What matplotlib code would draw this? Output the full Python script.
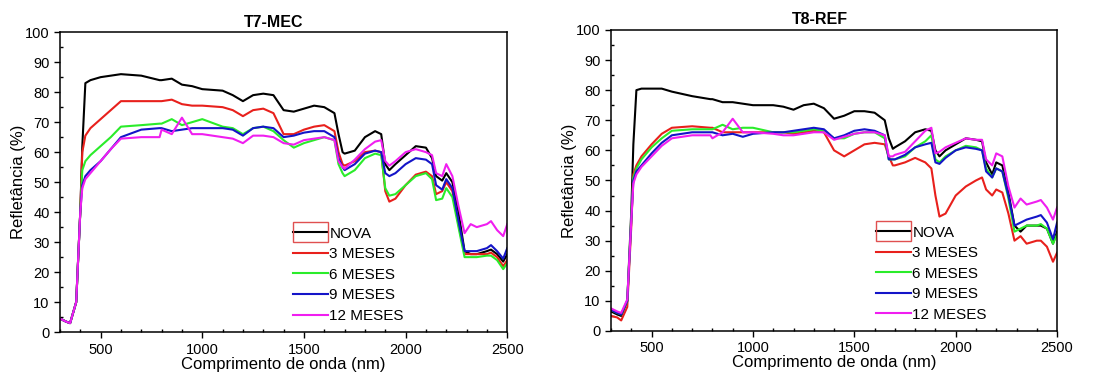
import numpy as np
import matplotlib
matplotlib.use("Agg")
import matplotlib.pyplot as plt
from matplotlib.patches import Rectangle
from matplotlib.ticker import MultipleLocator

plt.rcParams['font.family'] = ['Liberation Sans', 'DejaVu Sans']

# wavelength grid (nm), shared by every series
wl = [300, 330, 350, 380, 400, 410, 425, 450, 500, 550, 600, 700, 790, 800, 850, 900,
      950, 1000, 1100, 1150, 1200, 1250, 1300, 1350, 1400, 1450, 1500, 1550, 1600, 1650,
      1670, 1690, 1700, 1750, 1800, 1850, 1880, 1900, 1920, 1950, 2000, 2050, 2100, 2130,
      2150, 2180, 2200, 2230, 2260, 2290, 2320, 2350, 2400, 2420, 2450, 2480, 2500]

labels = ["NOVA", "3 MESES", "6 MESES", "9 MESES", "12 MESES"]
colors = ["black", "#e8201c", "#2aec2a", "#1414c8", "#f01ef0"]

# T7-MEC reflectance (%)
t7_nova = [4.5, 3.5, 3, 10, 40, 62, 83, 84, 85, 85.5, 86, 85.5, 84, 84, 84.5, 82.5, 82, 81, 80.5, 79,
           77, 79, 79.5, 79, 74, 73.5, 74.5, 75.5, 75, 73, 66, 60, 59.5, 60.5, 65, 67, 66, 56, 54, 56,
           59, 62, 61.5, 58, 52, 50.5, 53, 50, 40, 27, 26, 26, 27, 27.5, 26, 23.5, 26]
t7_3m = [4.5, 3.5, 3, 10, 40, 60, 65.5, 68, 71, 74, 77, 77, 77, 77, 77.5, 76, 75.5, 75.5, 75, 74,
         72, 74, 74.5, 73, 66, 66, 67.5, 68.5, 69, 67, 60, 56, 55.5, 57, 60, 60.5, 60, 47, 43.5, 44.5,
         49, 52.5, 53.5, 52, 46, 47, 50, 47, 36, 26, 26, 26, 26, 26.5, 25, 22, 24]
t7_6m = [4.5, 3.5, 3, 10, 40, 54, 57, 59, 62, 65, 68.5, 69, 69.5, 69.5, 71, 69, 70, 71, 68.5, 68,
         66, 68, 68.5, 67, 64, 61.5, 63, 64, 65, 64, 56, 53, 52, 54, 58, 59.5, 59, 48, 45.5, 46,
         49, 52, 53, 51, 44, 44.5, 48, 45, 35, 25, 25, 25, 25.5, 25.5, 24, 21, 23]
t7_9m = [4.5, 3.5, 3, 10, 40, 49, 52, 54, 57, 61, 65, 67.5, 68, 68, 67, 67.5, 68, 68, 68, 67.5,
         65.5, 68, 68.5, 68, 65, 65.5, 66.5, 67, 67, 65, 58, 55, 54, 56, 59.5, 60.5, 60, 53, 52, 53,
         56, 58, 57.5, 56, 49, 47.5, 51, 48, 37, 27, 27, 27, 28, 29, 27, 24.5, 28]
t7_12m = [4.5, 3.5, 3, 10, 40, 48, 51, 53, 57, 61, 64.5, 65, 65, 67.5, 66, 71.5, 66, 66, 65, 64.5,
          63, 65.5, 65.5, 65, 63, 62.5, 64, 64.5, 65, 64, 57, 55, 54.5, 57.5, 61, 63.5, 64, 57, 55.5, 57,
          60, 61, 60, 59, 53, 52, 56, 52, 42, 33, 36, 35, 36, 37, 34, 32, 36]

# T8-REF reflectance (%)
t8_nova = [6.5, 5.5, 5, 10, 40, 62, 80, 80.5, 80.5, 80.5, 79.5, 78, 77, 77, 76, 76, 75.5, 75, 75, 74.5,
           73.5, 75, 75.5, 74, 70.5, 71.5, 73, 73, 72.5, 70, 64, 60.5, 61, 63, 66, 67, 66.5, 60, 58, 60,
           62, 64, 63.5, 63, 56, 52, 56, 55, 46, 35, 33, 35, 35, 35, 34, 29, 33]
t8_3m = [5, 4.5, 3.5, 8, 35, 52, 55, 58, 62, 65.5, 67.5, 68, 67.5, 67.5, 66, 66, 66, 66, 66, 66,
         65.5, 66, 66.5, 66, 60, 58, 60, 62, 62.5, 62, 58, 55, 55, 56, 57.5, 56, 54, 45, 38, 39,
         45, 48, 50, 51, 47, 45, 47, 46, 39, 30, 31.5, 29, 30, 30, 28, 23, 26]
t8_6m = [7, 6, 5.5, 10, 38, 51, 54, 57, 61, 64, 66.5, 67, 67, 67, 68.5, 67, 67.5, 67.5, 66, 66,
         66, 66.5, 67, 66.5, 64, 64, 65.5, 66, 66, 64, 57, 57, 57, 58, 61, 63, 65, 57, 56, 58,
         60, 61.5, 61, 60, 54, 51, 54, 53, 44, 33, 34, 35, 35, 35.5, 34, 29, 32]
t8_9m = [7, 6, 5.5, 10, 37, 50, 53, 55, 59, 62.5, 65, 66, 66, 66, 65, 65.5, 64.5, 65.5, 66, 66,
         66.5, 67, 67.5, 67, 64, 65, 66.5, 67, 66.5, 65, 57, 57, 57, 58.5, 61, 62, 62.5, 56, 55.5, 57.5,
         60, 61, 60.5, 60, 53, 51, 54, 53, 45, 35, 36, 37, 38, 38.5, 36, 30.5, 36]
t8_12m = [7.5, 6.5, 6, 10.5, 37, 49, 52, 54.5, 58, 61.5, 64, 65, 65, 64, 66, 70.5, 66, 66, 65.5, 65,
          65, 65.5, 66, 66, 63.5, 64.5, 65.5, 66, 66, 65, 58, 58, 58.5, 59.5, 63, 66.5, 67.5, 59, 59.5, 61,
          62.5, 64, 63.5, 63.5, 57, 55, 59, 58, 48, 41, 44, 42, 43, 43.5, 41, 37, 41]

fig = plt.figure(figsize=(11.1, 3.74), dpi=100)
ax1 = fig.add_axes([0.054, 0.112, 0.403, 0.802])
ax2 = fig.add_axes([0.5505, 0.115, 0.4018, 0.805])

panels = [
    (ax1, "T7-MEC", [t7_nova, t7_3m, t7_6m, t7_9m, t7_12m], 0.50, 0.477),
    (ax2, "T8-REF", [t8_nova, t8_3m, t8_6m, t8_9m, t8_12m], 0.573, 0.469),
]

legends = []
for ax, title, series, leg_x, title_x in panels:
    for y, lab, c in zip(series, labels, colors):
        ax.plot(wl, y, color=c, lw=1.5, label=lab)
    ax.set_xlim(300, 2500)
    ax.set_ylim(0, 100)
    ax.xaxis.set_major_locator(MultipleLocator(500))
    ax.xaxis.set_minor_locator(MultipleLocator(100))
    ax.yaxis.set_major_locator(MultipleLocator(10))
    ax.yaxis.set_minor_locator(MultipleLocator(5))
    ax.tick_params(which='major', direction='out', length=4, width=1, labelsize=10.5)
    ax.tick_params(which='minor', direction='in', length=2.5, width=1)
    for s in ax.spines.values():
        s.set_linewidth(1.1)
    ax.set_title(title, fontsize=11.5, fontweight='bold', pad=4, x=title_x)
    ax.set_xlabel("Comprimento de onda (nm)", fontsize=12, labelpad=0)
    ax.set_ylabel("Refletância (%)", fontsize=12, labelpad=-1)
    leg = ax.legend(loc='lower left', bbox_to_anchor=(leg_x, 0.0), frameon=False, fontsize=11,
                    handlelength=2.3, handletextpad=0.1, labelspacing=0.43, borderaxespad=0.2)
    legends.append((ax, leg))

# red box drawn around the first legend handle
fig.canvas.draw()
renderer = fig.canvas.get_renderer()
for ax, leg in legends:
    bb = leg.legend_handles[0].get_window_extent(renderer)
    x0, y0 = fig.transFigure.inverted().transform((bb.x0, (bb.y0 + bb.y1) / 2 - 10))
    x1, y1 = fig.transFigure.inverted().transform((bb.x1, (bb.y0 + bb.y1) / 2 + 10))
    fig.add_artist(Rectangle((x0, y0), x1 - x0, y1 - y0, transform=fig.transFigure,
                             fill=False, edgecolor='#e05050', lw=1.0))

fig.savefig("out.png", dpi=100)
